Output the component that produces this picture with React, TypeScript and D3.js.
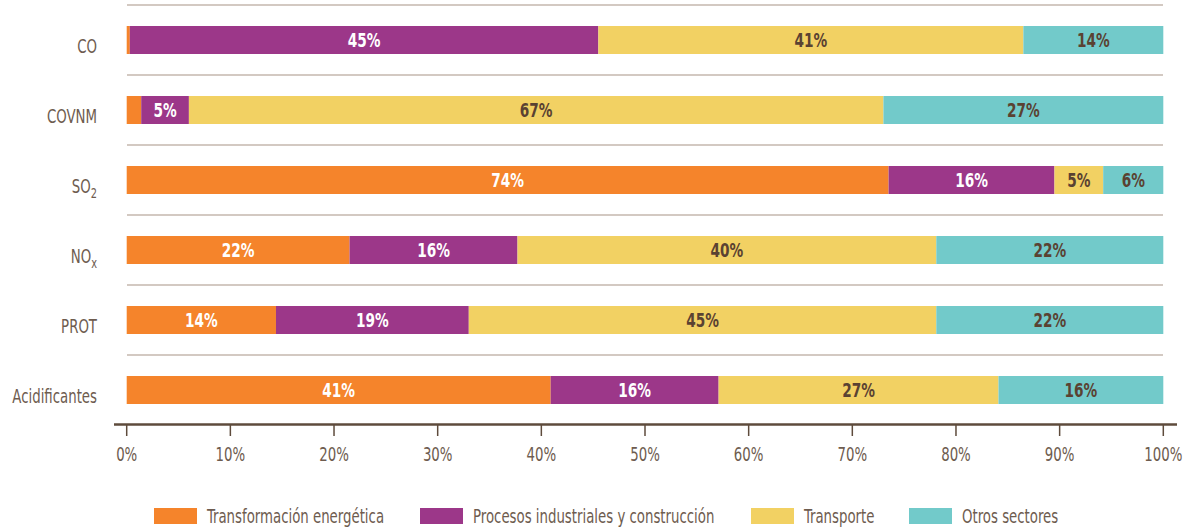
import React from "react";
import * as d3 from "d3";

const categories = ["CO", "COVNM", "SO2", "NOx", "PROT", "Acidificantes"];
const seriesNames = [
  "Transformación energética",
  "Procesos industriales y construcción",
  "Transporte",
  "Otros sectores",
];
const transformacion = [0.3, 1.4, 73.5, 21.5, 14.4, 40.9];
const procesos = [45.2, 4.6, 16.0, 16.2, 18.6, 16.2];
const transporte = [41.0, 67.0, 4.7, 40.4, 45.1, 27.0];
const otros = [13.5, 27.0, 5.8, 21.9, 21.9, 15.9];
const xTicks = [0, 10, 20, 30, 40, 50, 60, 70, 80, 90, 100];

const colors = ["#F5842B", "#9C3789", "#F2D163", "#72CACA"];
const labelColors = ["#ffffff", "#ffffff", "#5a4232", "#5a4232"];
const FONT = "'DejaVu Sans Condensed', 'DejaVu Sans', sans-serif";
const TEXT = "#6e5c4f";
const SX = 0.78;

function T(props: any) {
  const { x, y, sx = SX, children, ...rest } = props;
  return (
    <text transform={`translate(${x},${y}) scale(${sx},1)`} {...rest}>
      {children}
    </text>
  );
}

export default function App() {
  const width = 1186;
  const height = 530;
  const x = d3.scaleLinear().domain([0, 100]).range([126.7, 1163.3]);
  const y = d3
    .scaleBand<string>()
    .domain(categories)
    .range([5, 425])
    .paddingInner(0.6)
    .paddingOuter(0.3);
  const step = y.step();

  const rows = categories.map((c, i) => ({
    cat: c,
    Transformacion: transformacion[i],
    Procesos: procesos[i],
    Transporte: transporte[i],
    Otros: otros[i],
  }));
  const keys = ["Transformacion", "Procesos", "Transporte", "Otros"];
  const stacked = d3.stack<any>().keys(keys)(rows);

  const renderCat = (c: string) => {
    if (c === "SO2")
      return (
        <>
          SO
          <tspan fontSize={14} dy={5}>2</tspan>
        </>
      );
    if (c === "NOx")
      return (
        <>
          NO
          <tspan fontSize={14} dy={5}>x</tspan>
        </>
      );
    return c;
  };

  const legendX = [154, 420, 751, 909];

  return (
    <svg width={width} height={height} style={{ position: "absolute", left: 0, top: 0 }} fontFamily={FONT}>
      {categories.map((c) => {
        const yy = (y(c) as number) - step * 0.3;
        return (
          <line key={"sep" + c} x1={127} x2={1163} y1={yy} y2={yy} stroke="#d3c9c2" strokeWidth={2} />
        );
      })}
      {stacked.map((s, si) =>
        s.map((d, i) => {
          const cat = categories[i];
          const y0 = y(cat) as number;
          const v = d[1] - d[0];
          const x0 = x(d[0]);
          const x1 = x(d[1]);
          return (
            <g key={si + "-" + i}>
              <rect x={x0} y={y0} width={x1 - x0} height={y.bandwidth()} fill={colors[si]} />
              {v >= 3 && (
                <T
                  x={(x0 + x1) / 2}
                  y={y0 + y.bandwidth() / 2 + 7}
                  sx={0.8}
                  textAnchor="middle"
                  fontWeight="bold"
                  fontSize={19}
                  fill={labelColors[si]}
                >
                  {Math.round(v) + "%"}
                </T>
              )}
            </g>
          );
        })
      )}
      {categories.map((c) => (
        <T
          key={"cat" + c}
          x={97}
          y={(y(c) as number) + y.bandwidth() / 2 + 13}
          textAnchor="end"
          fontSize={19}
          fill={TEXT}
        >
          {renderCat(c)}
        </T>
      ))}
      <line x1={114} x2={1177} y1={424.5} y2={424.5} stroke="#5e4b3c" strokeWidth={2.5} />
      {xTicks.map((t) => (
        <g key={"t" + t}>
          <line x1={x(t)} x2={x(t)} y1={424} y2={436} stroke="#5e4b3c" strokeWidth={1.5} />
          <T x={x(t)} y={461} textAnchor="middle" fontSize={19} fill={TEXT}>
            {t + "%"}
          </T>
        </g>
      ))}
      {seriesNames.map((n, i) => (
        <g key={"lg" + i}>
          <rect x={legendX[i]} y={508} width={43} height={16} fill={colors[i]} />
          <T x={legendX[i] + 53} y={523} fontSize={19} fill={TEXT}>
            {n}
          </T>
        </g>
      ))}
    </svg>
  );
}
